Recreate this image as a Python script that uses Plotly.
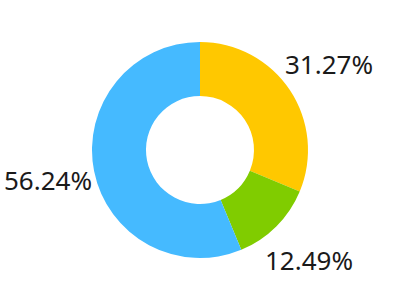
import math
import plotly.graph_objects as go

labels = ["A", "B", "C"]
values = [31.27, 12.49, 56.24]
colors = ["#FFC800", "#80CC00", "#45BAFF"]
text_labels = ["31.27%", "12.49%", "56.24%"]

W, H = 400, 300
dom_x = [0.23, 0.77]
dom_y = [0.14, 0.86]

fig = go.Figure(go.Pie(
    labels=labels, values=values, hole=0.5, sort=False, direction="clockwise",
    rotation=0, marker=dict(colors=colors, line=dict(width=0)),
    textinfo="none", hoverinfo="label+percent",
    domain=dict(x=dom_x, y=dom_y), showlegend=False,
))

# label positions derived from slice mid-angles
cx = (dom_x[0] + dom_x[1]) / 2 * W
cy = (dom_y[0] + dom_y[1]) / 2 * H
label_r = 155
total = sum(values)
cum = 0
for v, t in zip(values, text_labels):
    mid = (cum + v / 2) / total * 2 * math.pi
    cum += v
    px = cx + label_r * math.sin(mid)
    py = cy + label_r * math.cos(mid)  # paper y measured from bottom
    fig.add_annotation(x=px / W, y=py / H, xref="paper", yref="paper",
                       text=t, showarrow=False, xanchor="center", yanchor="middle",
                       font=dict(family="Noto Sans", size=26, color="#1a1a1a"))

fig.update_layout(width=W, height=H, margin=dict(l=0, r=0, t=0, b=0),
                  paper_bgcolor="white", plot_bgcolor="white")
fig.write_html("out.html")
